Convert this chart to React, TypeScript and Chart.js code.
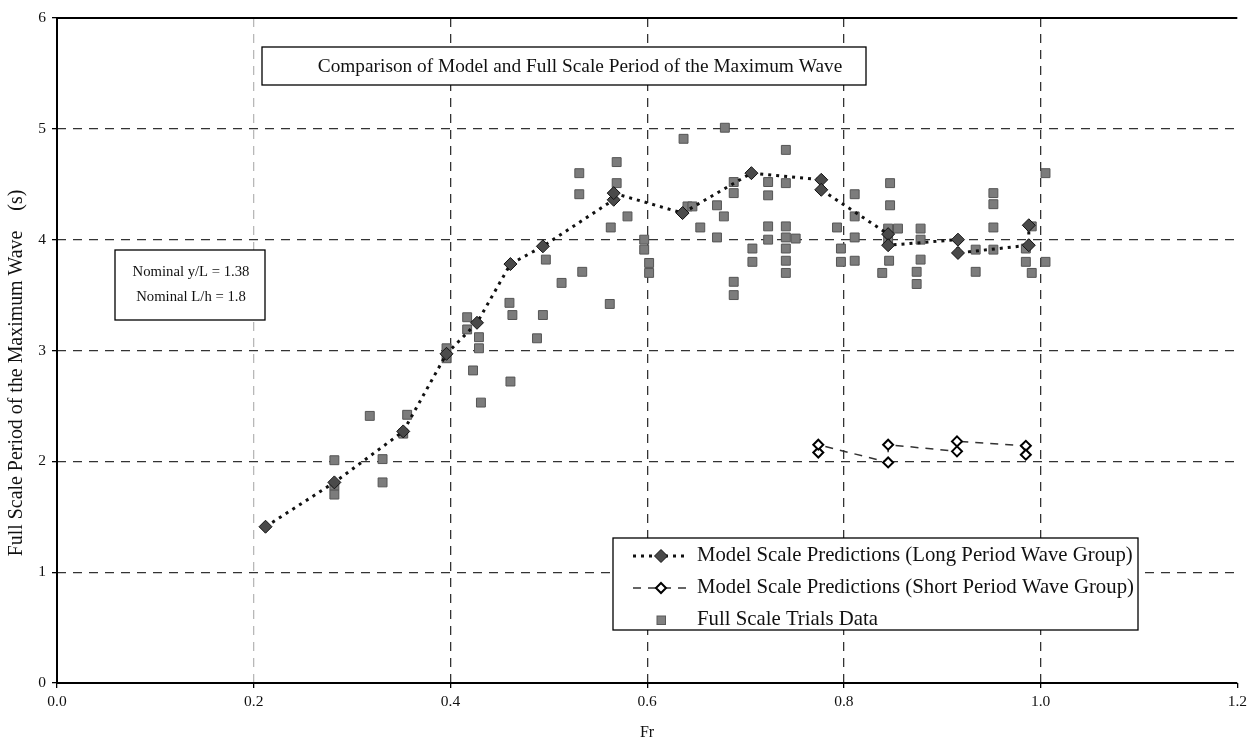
import React, { useEffect, useRef } from "react";
import { Chart, registerables } from "chart.js";

Chart.register(...registerables);

// ---------- data ----------
const xTicks = [0, 0.2, 0.4, 0.6, 0.8, 1.0, 1.2];
const yTicks = [0, 1, 2, 3, 4, 5, 6];

const longX = [0.212, 0.282, 0.352, 0.396, 0.427, 0.461, 0.494, 0.566, 0.566, 0.636, 0.706, 0.777, 0.777, 0.845, 0.845, 0.916, 0.916, 0.988, 0.988];
const longY = [1.41, 1.81, 2.27, 2.97, 3.25, 3.78, 3.94, 4.36, 4.42, 4.24, 4.60, 4.54, 4.45, 4.05, 3.95, 4.00, 3.88, 3.95, 4.13];

const shortX = [0.774, 0.774, 0.845, 0.845, 0.915, 0.915, 0.985, 0.985];
const shortY = [2.08, 2.15, 1.99, 2.15, 2.09, 2.18, 2.14, 2.06];

const trialX = [
  0.282, 0.282, 0.282, 0.318, 0.331, 0.331, 0.352, 0.356,
  0.396, 0.396, 0.417, 0.417, 0.429, 0.429, 0.423, 0.431, 0.461, 0.460, 0.463,
  0.488, 0.494, 0.497, 0.513, 0.534, 0.531, 0.531, 0.569, 0.569, 0.580, 0.563, 0.562,
  0.597, 0.597, 0.602, 0.602,
  0.637, 0.679, 0.641, 0.646, 0.671, 0.678, 0.654, 0.671,
  0.688, 0.688, 0.688, 0.688, 0.707, 0.707, 0.723, 0.723, 0.723, 0.723,
  0.741, 0.741, 0.741, 0.741, 0.741, 0.741, 0.741, 0.751,
  0.793, 0.797, 0.797, 0.811, 0.811, 0.811, 0.811,
  0.847, 0.847, 0.845, 0.855, 0.845, 0.846, 0.839,
  0.878, 0.878, 0.878, 0.874, 0.874,
  0.934, 0.934, 0.952, 0.952, 0.952, 0.952,
  0.991, 0.985, 0.985, 0.991, 1.005, 1.005,
];
const trialY = [
  2.01, 1.78, 1.70, 2.41, 2.02, 1.81, 2.25, 2.42,
  3.02, 2.93, 3.30, 3.19, 3.12, 3.02, 2.82, 2.53, 2.72, 3.43, 3.32,
  3.11, 3.32, 3.82, 3.61, 3.71, 4.60, 4.41, 4.70, 4.51, 4.21, 4.11, 3.42,
  4.00, 3.91, 3.79, 3.70,
  4.91, 5.01, 4.30, 4.30, 4.31, 4.21, 4.11, 4.02,
  4.52, 4.42, 3.62, 3.50, 3.92, 3.80, 4.52, 4.40, 4.12, 4.00,
  4.81, 4.51, 4.12, 4.02, 3.92, 3.81, 3.70, 4.01,
  4.11, 3.92, 3.80, 4.41, 4.21, 4.02, 3.81,
  4.51, 4.31, 4.10, 4.10, 4.00, 3.81, 3.70,
  4.10, 4.00, 3.82, 3.71, 3.60,
  3.91, 3.71, 4.42, 4.32, 4.11, 3.91,
  4.12, 3.92, 3.80, 3.70, 4.60, 3.80,
];

const chartTitle = "Comparison of Model and Full Scale Period of the Maximum Wave";
const noteLines = ["Nominal y/L = 1.38", "Nominal L/h = 1.8"];
const legendLabels = [
  "Model Scale Predictions (Long Period Wave Group)",
  "Model Scale Predictions (Short Period Wave Group)",
  "Full Scale Trials Data",
];
const xTitle = "Fr";
const yTitle = "Full Scale Period of the Maximum Wave    (s)";

// ---------- styles ----------
const FONT = "'Liberation Serif', 'Times New Roman', serif";
const W = 1252;
const H = 749;
const AREA = { left: 57, top: 18, right: 1239, bottom: 683 };

function fitSize(ctx: CanvasRenderingContext2D, text: string, target: number) {
  ctx.font = `100px ${FONT}`;
  const w = ctx.measureText(text).width;
  return (100 * target) / w;
}

function diamond(ctx: CanvasRenderingContext2D, x: number, y: number, r: number) {
  ctx.beginPath();
  ctx.moveTo(x, y - r);
  ctx.lineTo(x + r, y);
  ctx.lineTo(x, y + r);
  ctx.lineTo(x - r, y);
  ctx.closePath();
}

const overlay = {
  id: "overlay",
  afterDraw(chart: any) {
    const ctx: CanvasRenderingContext2D = chart.ctx;
    const ca = chart.chartArea;
    ctx.save();

    // axes frame
    ctx.strokeStyle = "#000";
    ctx.lineWidth = 2;
    ctx.setLineDash([]);
    ctx.beginPath();
    ctx.moveTo(ca.right, ca.top);
    ctx.lineTo(ca.left, ca.top);
    ctx.lineTo(ca.left, ca.bottom);
    ctx.lineTo(ca.right, ca.bottom);
    ctx.stroke();

    // title box
    ctx.fillStyle = "#fff";
    ctx.fillRect(262, 47, 604, 38);
    ctx.lineWidth = 1.3;
    ctx.strokeRect(262, 47, 604, 38);
    ctx.fillStyle = "#111";
    ctx.textAlign = "center";
    ctx.textBaseline = "middle";
    const ts = fitSize(ctx, chartTitle, 525);
    ctx.font = `${ts}px ${FONT}`;
    ctx.fillText(chartTitle, 580, 67);

    // nominal box
    ctx.fillStyle = "#fff";
    ctx.fillRect(115, 250, 150, 70);
    ctx.strokeRect(115, 250, 150, 70);
    ctx.fillStyle = "#111";
    const ns = fitSize(ctx, noteLines[0], 117);
    ctx.font = `${ns}px ${FONT}`;
    ctx.fillText(noteLines[0], 191, 272);
    ctx.fillText(noteLines[1], 191, 297);

    // legend box
    ctx.fillStyle = "#fff";
    ctx.fillRect(613, 538, 525, 92);
    ctx.strokeStyle = "#000";
    ctx.strokeRect(613, 538, 525, 92);
    const ls = fitSize(ctx, legendLabels[0], 436);
    ctx.font = `${ls}px ${FONT}`;
    ctx.textAlign = "left";
    const rows = [556, 588, 620];
    rows.forEach((ry, i) => {
      ctx.fillStyle = "#111";
      ctx.fillText(legendLabels[i], 697, ry);
      ctx.save();
      if (i === 0) {
        ctx.strokeStyle = "#111";
        ctx.lineWidth = 3;
        ctx.setLineDash([3, 5]);
        ctx.beginPath();
        ctx.moveTo(633, ry);
        ctx.lineTo(689, ry);
        ctx.stroke();
        ctx.setLineDash([]);
        diamond(ctx, 661, ry, 6.5);
        ctx.fillStyle = "#4a4a4a";
        ctx.fill();
        ctx.lineWidth = 1;
        ctx.stroke();
      } else if (i === 1) {
        ctx.strokeStyle = "#333";
        ctx.lineWidth = 1.5;
        ctx.setLineDash([8, 7]);
        ctx.beginPath();
        ctx.moveTo(633, ry);
        ctx.lineTo(689, ry);
        ctx.stroke();
        ctx.setLineDash([]);
        diamond(ctx, 661, ry, 5);
        ctx.fillStyle = "#fff";
        ctx.fill();
        ctx.strokeStyle = "#000";
        ctx.lineWidth = 2;
        ctx.stroke();
      } else {
        ctx.fillStyle = "#808080";
        ctx.fillRect(657, ry - 4, 8.5, 8.5);
        ctx.strokeStyle = "#5a5a5a";
        ctx.lineWidth = 1;
        ctx.strokeRect(657, ry - 4, 8.5, 8.5);
      }
      ctx.restore();
    });

    // axis titles
    ctx.fillStyle = "#111";
    ctx.textAlign = "center";
    ctx.font = `16px ${FONT}`;
    ctx.fillText(xTitle, 647, 733);
    ctx.save();
    ctx.translate(17, 373);
    ctx.rotate(-Math.PI / 2);
    const ys = fitSize(ctx, yTitle, 367);
    ctx.font = `${ys}px ${FONT}`;
    ctx.fillText(yTitle, 0, 0);
    ctx.restore();

    ctx.restore();
  },
};

export default function App() {
  const ref = useRef<HTMLCanvasElement | null>(null);

  useEffect(() => {
    if (!ref.current) return;
    const toPts = (xs: number[], ys: number[]) => xs.map((x, i) => ({ x, y: ys[i] }));
    const chart = new Chart(ref.current, {
      type: "scatter",
      data: {
        datasets: [
          {
            label: legendLabels[0],
            data: toPts(longX, longY),
            showLine: true,
            borderColor: "#111",
            borderWidth: 3,
            borderDash: [3, 5],
            pointStyle: "rectRot",
            pointRadius: 6.5,
            pointBackgroundColor: "#4a4a4a",
            pointBorderColor: "#111",
            pointBorderWidth: 1,
          },
          {
            label: legendLabels[1],
            data: toPts(shortX, shortY),
            showLine: true,
            borderColor: "#333",
            borderWidth: 1.5,
            borderDash: [8, 7],
            pointStyle: "rectRot",
            pointRadius: 5,
            pointBackgroundColor: "#fff",
            pointBorderColor: "#000",
            pointBorderWidth: 2,
          },
          {
            label: legendLabels[2],
            data: toPts(trialX, trialY),
            showLine: false,
            pointStyle: "rect",
            pointRadius: 6.3,
            pointBackgroundColor: "#7c7c7c",
            pointBorderColor: "#555",
            pointBorderWidth: 1,
          },
        ],
      },
      options: {
        responsive: false,
        animation: false,
        events: [],
        layout: { padding: { top: AREA.top, right: W - AREA.right, left: 0, bottom: 0 } },
        plugins: { legend: { display: false }, tooltip: { enabled: false }, title: { display: false } },
        scales: {
          x: {
            type: "linear",
            min: 0,
            max: 1.2,
            afterBuildTicks: (s: any) => {
              s.ticks = xTicks.map((v) => ({ value: v }));
            },
            afterFit: (s: any) => {
              s.height = H - AREA.bottom;
            },
            ticks: {
              color: "#111",
              font: { family: FONT, size: 15.5 },
              padding: 5,
              maxRotation: 0,
              callback: (v: any) => Number(v).toFixed(1),
            },
            grid: {
              color: (c: any) => {
                const v = c.tick ? c.tick.value : null;
                if (v === 0 || v === 1.2) return "rgba(0,0,0,0)";
                if (v === 0.2) return "#b8b8b8";
                return "#333";
              },
              lineWidth: 1.3,
              tickColor: "#000",
              tickLength: 5,
              tickBorderDash: [],
            },
            border: { display: false, dash: [9, 7] },
          },
          y: {
            type: "linear",
            min: 0,
            max: 6,
            afterBuildTicks: (s: any) => {
              s.ticks = yTicks.map((v) => ({ value: v }));
            },
            afterFit: (s: any) => {
              s.width = AREA.left;
            },
            ticks: {
              color: "#111",
              font: { family: FONT, size: 15.5 },
              padding: 6,
              callback: (v: any) => String(v),
            },
            grid: {
              color: (c: any) => {
                const v = c.tick ? c.tick.value : null;
                if (v === 0 || v === 6) return "rgba(0,0,0,0)";
                return "#333";
              },
              lineWidth: 1.3,
              tickColor: "#000",
              tickLength: 5,
              tickBorderDash: [],
            },
            border: { display: false, dash: [9, 7] },
          },
        },
      },
      plugins: [overlay],
    } as any);
    return () => chart.destroy();
  }, []);

  return (
    <div style={{ position: "fixed", left: 0, top: 0, width: W, height: H, background: "#fff" }}>
      <canvas ref={ref} width={W} height={H} style={{ display: "block" }} />
    </div>
  );
}
